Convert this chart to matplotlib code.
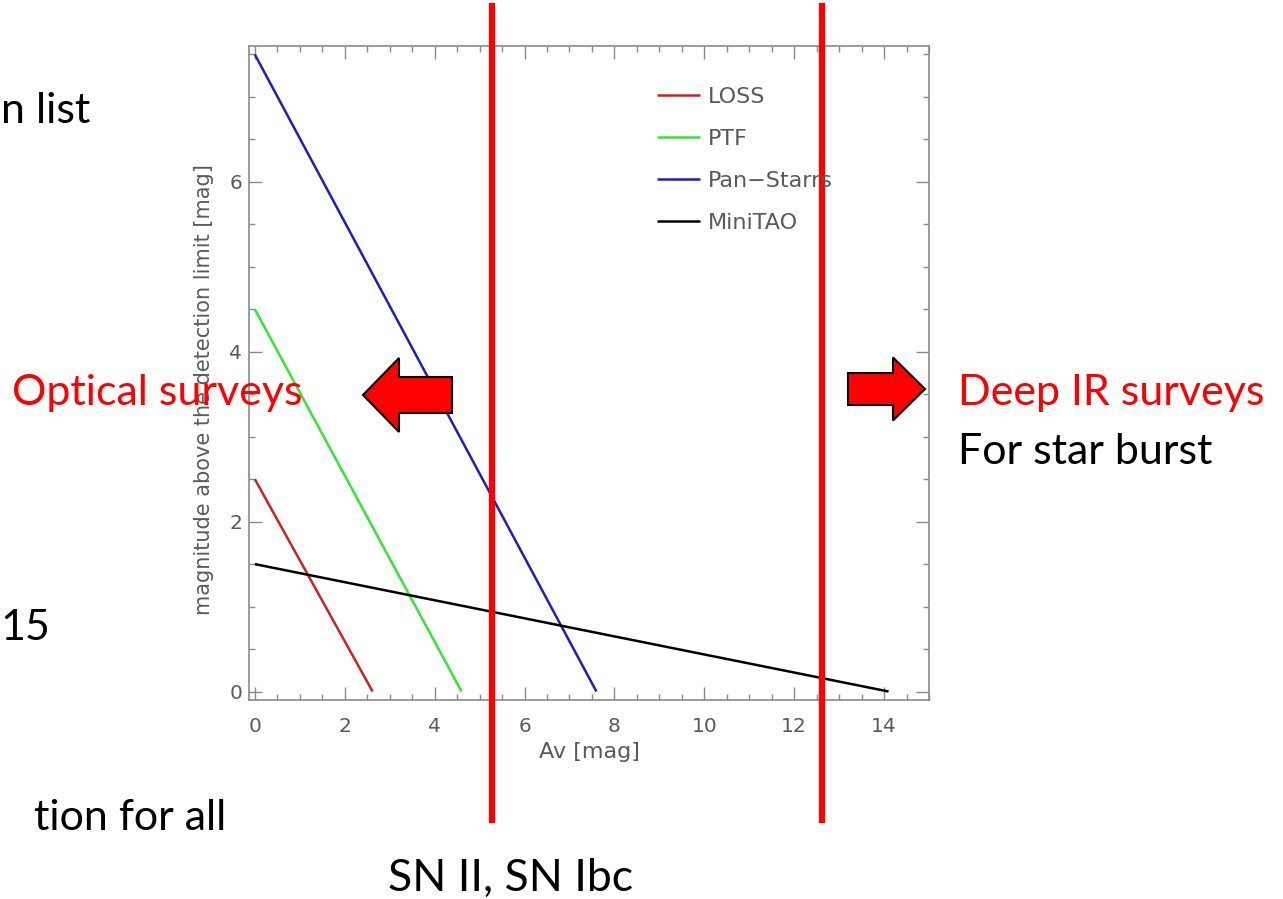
import matplotlib

matplotlib.use("Agg")
import matplotlib.pyplot as plt
from matplotlib.patches import FancyArrow
from matplotlib.ticker import MultipleLocator

# --- data ---
av_loss = [0.0, 2.62]
mag_loss = [2.5, 0.0]
av_ptf = [0.0, 4.6]
mag_ptf = [4.5, 0.0]
av_panstarrs = [0.0, 7.6]
mag_panstarrs = [7.5, 0.0]
av_minitao = [0.0, 14.1]
mag_minitao = [1.5, 0.0]

series_labels = ["LOSS", "PTF", "Pan\u2212Starrs", "MiniTAO"]
series_colors = ["#CC2222", "#33E633", "#1E1EB9", "#000000"]

sn_av_limits = [5.27, 12.63]  # red vertical markers

W, H = 1283, 899
AXIS_GRAY = "#8A8A8A"
TEXT_GRAY = "#5A5A5A"
SLIDE_FONT = ["Lato", "DejaVu Sans"]
SLIDE_SIZE = 31


def fx(px):
    return px / W


def fy(py):
    return 1 - py / H


fig = plt.figure(figsize=(W / 100, H / 100), dpi=100)
ax = fig.add_axes([fx(249), fy(700), fx(929) - fx(249), fy(46) - fy(700)])

for xs, ys, label, color in zip(
    [av_loss, av_ptf, av_panstarrs, av_minitao],
    [mag_loss, mag_ptf, mag_panstarrs, mag_minitao],
    series_labels,
    series_colors,
):
    ax.plot(xs, ys, color=color, lw=1.8, label=label, solid_capstyle="butt")

ax.set_xlim(-0.13, 15.0)
ax.set_ylim(-0.1, 7.6)

ax.xaxis.set_major_locator(MultipleLocator(2))
ax.xaxis.set_minor_locator(MultipleLocator(0.5))
ax.yaxis.set_major_locator(MultipleLocator(2))
ax.yaxis.set_minor_locator(MultipleLocator(0.5))

ax.tick_params(which="both", direction="in", top=True, right=True,
               color=AXIS_GRAY, width=1.0, labelcolor=TEXT_GRAY, labelsize=14.5)
ax.tick_params(which="major", length=9.5)
ax.tick_params(which="minor", length=4.5)
ax.tick_params(axis="x", pad=12)
ax.tick_params(axis="y", pad=5)
for sp in ax.spines.values():
    sp.set_color(AXIS_GRAY)
    sp.set_linewidth(1.2)

ax.set_xlabel("Av [mag]", fontsize=16, color=TEXT_GRAY)
ax.set_ylabel("magnitude above the detection limit [mag]", fontsize=15, color=TEXT_GRAY)
ax.xaxis.set_label_coords(0.5, -0.064)
ax.yaxis.set_label_coords(-0.052, 0.475)

ax.legend(
    loc="upper left",
    bbox_to_anchor=(fx(657), fy(87)),
    bbox_transform=fig.transFigure,
    frameon=False,
    fontsize=16,
    labelcolor=TEXT_GRAY,
    handlelength=1.95,
    handletextpad=0.32,
    labelspacing=0.99,
    borderpad=0,
    borderaxespad=0,
)

# red SN markers that run past the plot box
for xv in sn_av_limits:
    ax.axvline(xv, ymin=(700 - 820) / 654, ymax=(700 - 6) / 654,
               color="#FF0000", lw=4.5, clip_on=False, zorder=5)

# block arrows
left_arrow = FancyArrow(fx(452), fy(395), fx(363) - fx(452), 0,
                        width=36 / H, head_width=74 / H, head_length=36 / W,
                        length_includes_head=True, transform=fig.transFigure,
                        facecolor="#FF0000", edgecolor="black", lw=1.5, zorder=6)
right_arrow = FancyArrow(fx(848), fy(389), fx(925) - fx(848), 0,
                         width=32 / H, head_width=63 / H, head_length=32 / W,
                         length_includes_head=True, transform=fig.transFigure,
                         facecolor="#FF0000", edgecolor="black", lw=1.5, zorder=6)
fig.add_artist(left_arrow)
fig.add_artist(right_arrow)

# slide text around the chart
fig.text(fx(90), fy(111), "n list", ha="right", va="center", fontsize=SLIDE_SIZE, family=SLIDE_FONT)
fig.text(fx(50), fy(628), "15", ha="right", va="center", fontsize=SLIDE_SIZE, family=SLIDE_FONT)
fig.text(fx(226), fy(818), "tion for all", ha="right", va="center", fontsize=SLIDE_SIZE, family=SLIDE_FONT)
fig.text(fx(12), fy(393), "Optical surveys", ha="left", va="center", fontsize=SLIDE_SIZE,
         color="#FF0000", family=SLIDE_FONT, zorder=7)
fig.text(fx(958), fy(393), "Deep IR surveys", ha="left", va="center", fontsize=SLIDE_SIZE,
         color="#FF0000", family=SLIDE_FONT)
fig.text(fx(958), fy(452), "For star burst", ha="left", va="center", fontsize=SLIDE_SIZE,
         family=SLIDE_FONT)
fig.text(fx(511), fy(878), "SN II, SN Ibc", ha="center", va="center", fontsize=SLIDE_SIZE + 1,
         family=SLIDE_FONT)

fig.savefig("out.png", dpi=100, facecolor="white")
